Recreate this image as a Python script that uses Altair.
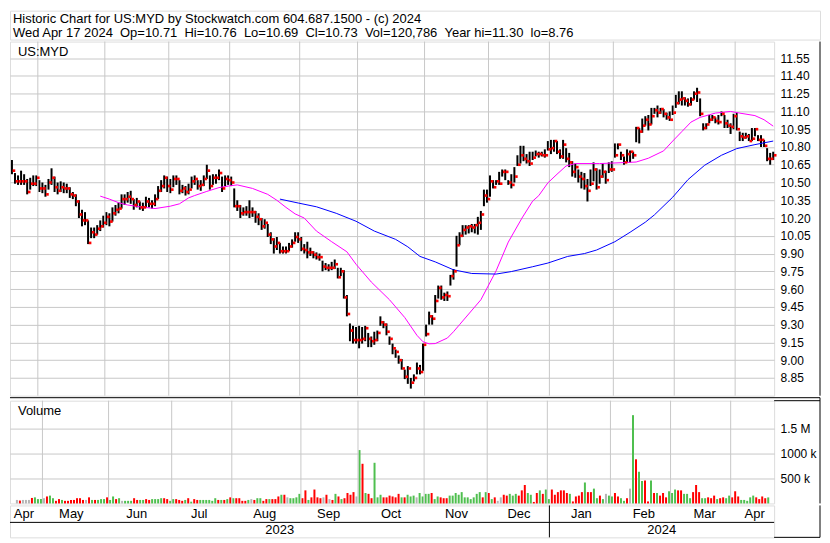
import altair as alt
import pandas as pd

FONT = "Liberation Sans"
W = 766
W_FULL = 812
H_HEAD = 29
H_PRICE = 355
H_VOL = 103
H_BOT = 32

TITLE_1 = "Historic Chart for US:MYD by Stockwatch.com 604.687.1500 - (c) 2024"
TITLE_2 = "Wed Apr 17 2024\u00a0\u00a0Op=10.71\u00a0\u00a0Hi=10.76\u00a0\u00a0Lo=10.69\u00a0\u00a0Cl=10.73\u00a0\u00a0Vol=120,786\u00a0\u00a0Year hi=11.30\u00a0\u00a0lo=8.76"

month_names = ["Apr", "May", "Jun", "Jul", "Aug", "Sep", "Oct", "Nov", "Dec", "Jan", "Feb", "Mar", "Apr"]
year_labels = ["2023", "2024"]
price_ticks = [8.85, 9.00, 9.15, 9.30, 9.45, 9.60, 9.75, 9.90, 10.05, 10.20, 10.35,
               10.50, 10.65, 10.80, 10.95, 11.10, 11.25, 11.40, 11.55]
vol_tick_values = [500000, 1000000, 1500000]
vol_tick_labels = ["500 k", "1000 k", "1.5 M"]

# ---- daily closes, by month ----
close_apr23 = [10.60, 10.51, 10.51, 10.51, 10.51, 10.42, 10.49, 10.49, 10.54]
close_may = [10.45, 10.45, 10.40, 10.50, 10.54, 10.46, 10.43, 10.46, 10.45, 10.45, 10.40, 10.39, 10.34, 10.23, 10.18, 10.18, 9.99, 10.08, 10.06, 10.11, 10.13, 10.16]
close_jun = [10.21, 10.17, 10.24, 10.27, 10.28, 10.36, 10.36, 10.38, 10.36, 10.31, 10.34, 10.29, 10.29, 10.34, 10.32, 10.32, 10.36, 10.43, 10.47, 10.54, 10.47]
close_jul = [10.44, 10.53, 10.53, 10.43, 10.45, 10.42, 10.44, 10.51, 10.53, 10.47, 10.48, 10.53, 10.60, 10.47, 10.54, 10.54, 10.58, 10.45, 10.53, 10.52]
close_aug = [10.50, 10.30, 10.30, 10.24, 10.25, 10.25, 10.25, 10.25, 10.21, 10.19, 10.13, 10.16, 10.06, 10.02, 9.96, 9.99, 9.92, 9.92, 9.92, 9.96, 9.99, 10.04, 10.02]
close_sep = [9.94, 9.93, 9.91, 9.91, 9.89, 9.87, 9.87, 9.79, 9.78, 9.78, 9.78, 9.81, 9.70, 9.75, 9.53, 9.39, 9.25, 9.17, 9.17]
close_oct = [9.17, 9.18, 9.27, 9.18, 9.16, 9.17, 9.23, 9.32, 9.30, 9.24, 9.18, 9.10, 9.07, 9.00, 8.93, 8.86, 8.93, 8.81, 8.85, 8.93, 8.90, 9.13]
close_nov = [9.22, 9.37, 9.35, 9.50, 9.61, 9.53, 9.55, 9.54, 9.71, 9.75, 9.97, 10.05, 10.10, 10.12, 10.13, 10.12, 10.14, 10.16, 10.23, 10.39, 10.36]
close_dec = [10.51, 10.46, 10.51, 10.49, 10.59, 10.59, 10.50, 10.48, 10.55, 10.65, 10.73, 10.70, 10.68, 10.66, 10.71, 10.74, 10.74, 10.73, 10.73, 10.78]
close_jan = [10.79, 10.85, 10.76, 10.72, 10.82, 10.70, 10.67, 10.59, 10.63, 10.55, 10.53, 10.47, 10.43, 10.49, 10.61, 10.46, 10.55, 10.59, 10.52, 10.61, 10.61]
close_feb = [10.73, 10.82, 10.73, 10.67, 10.74, 10.76, 10.73, 10.96, 10.93, 10.98, 11.03, 10.99, 11.06, 11.11, 11.09, 11.12, 11.08, 11.05, 11.03, 11.09]
close_mar = [11.17, 11.20, 11.21, 11.19, 11.16, 11.20, 11.25, 11.26, 11.08, 10.96, 10.99, 11.03, 11.05, 11.02, 11.01, 11.08, 11.00, 10.98, 10.97, 11.06]
close_apr24 = [10.95, 10.89, 10.88, 10.89, 10.85, 10.87, 10.95, 10.86, 10.86, 10.81, 10.70, 10.70, 10.73]

# ---- daily highs ----
high_apr23 = [10.69, 10.58, 10.56, 10.60, 10.57, 10.53, 10.54, 10.56, 10.56]
high_may = [10.52, 10.50, 10.48, 10.53, 10.62, 10.55, 10.50, 10.51, 10.50, 10.49, 10.46, 10.42, 10.40, 10.35, 10.27, 10.25, 10.18, 10.12, 10.12, 10.14, 10.18, 10.22]
high_jun = [10.25, 10.24, 10.29, 10.31, 10.33, 10.40, 10.40, 10.42, 10.43, 10.36, 10.37, 10.34, 10.33, 10.38, 10.37, 10.35, 10.40, 10.47, 10.52, 10.56, 10.55]
high_jul = [10.53, 10.56, 10.56, 10.52, 10.48, 10.47, 10.49, 10.55, 10.56, 10.52, 10.52, 10.56, 10.65, 10.56, 10.57, 10.57, 10.61, 10.55, 10.56, 10.56]
high_aug = [10.55, 10.45, 10.35, 10.31, 10.29, 10.30, 10.35, 10.29, 10.26, 10.24, 10.20, 10.19, 10.15, 10.08, 10.03, 10.04, 9.99, 9.96, 9.96, 9.99, 10.02, 10.08, 10.08]
high_sep = [10.04, 9.98, 10.00, 9.95, 9.92, 9.91, 9.90, 9.84, 9.82, 9.81, 9.83, 9.85, 9.78, 9.78, 9.76, 9.55, 9.31, 9.29, 9.28]
high_oct = [9.29, 9.28, 9.29, 9.23, 9.20, 9.24, 9.25, 9.37, 9.33, 9.31, 9.20, 9.14, 9.09, 9.04, 9.01, 8.92, 8.95, 8.85, 8.88, 8.98, 8.96, 9.14]
high_nov = [9.30, 9.41, 9.38, 9.55, 9.63, 9.63, 9.57, 9.58, 9.72, 9.77, 10.05, 10.08, 10.14, 10.14, 10.14, 10.15, 10.15, 10.21, 10.26, 10.44, 10.44]
high_dec = [10.56, 10.52, 10.52, 10.59, 10.61, 10.61, 10.52, 10.57, 10.63, 10.73, 10.81, 10.81, 10.74, 10.76, 10.76, 10.77, 10.76, 10.76, 10.78, 10.85]
high_jan = [10.86, 10.86, 10.85, 10.78, 10.86, 10.79, 10.75, 10.68, 10.66, 10.61, 10.59, 10.58, 10.53, 10.61, 10.67, 10.62, 10.61, 10.66, 10.60, 10.67, 10.68]
high_feb = [10.83, 10.83, 10.76, 10.72, 10.78, 10.77, 10.76, 10.97, 10.96, 11.04, 11.06, 11.07, 11.13, 11.13, 11.15, 11.13, 11.12, 11.09, 11.10, 11.15]
high_mar = [11.24, 11.27, 11.27, 11.22, 11.21, 11.22, 11.27, 11.30, 11.21, 11.00, 11.00, 11.07, 11.07, 11.05, 11.07, 11.10, 11.07, 11.03, 11.00, 11.08]
high_apr24 = [11.09, 10.93, 10.92, 10.92, 10.91, 10.96, 10.96, 10.90, 10.90, 10.86, 10.79, 10.75, 10.76]

# ---- daily lows ----
low_apr23 = [10.57, 10.49, 10.48, 10.48, 10.48, 10.40, 10.44, 10.47, 10.47]
low_may = [10.42, 10.41, 10.38, 10.44, 10.48, 10.42, 10.40, 10.42, 10.41, 10.41, 10.37, 10.36, 10.30, 10.20, 10.13, 10.14, 9.98, 10.03, 10.03, 10.06, 10.09, 10.12]
low_jun = [10.14, 10.13, 10.17, 10.22, 10.24, 10.28, 10.31, 10.33, 10.32, 10.27, 10.29, 10.27, 10.26, 10.29, 10.29, 10.28, 10.30, 10.36, 10.42, 10.45, 10.42]
low_jul = [10.41, 10.46, 10.48, 10.40, 10.41, 10.39, 10.40, 10.45, 10.48, 10.44, 10.43, 10.47, 10.53, 10.44, 10.48, 10.49, 10.52, 10.42, 10.47, 10.48]
low_aug = [10.47, 10.29, 10.26, 10.20, 10.22, 10.22, 10.20, 10.21, 10.16, 10.14, 10.10, 10.11, 10.04, 9.98, 9.90, 9.93, 9.90, 9.90, 9.90, 9.92, 9.95, 10.00, 9.99]
low_sep = [9.92, 9.90, 9.86, 9.88, 9.86, 9.85, 9.84, 9.75, 9.76, 9.75, 9.76, 9.77, 9.69, 9.71, 9.52, 9.37, 9.16, 9.14, 9.14]
low_oct = [9.10, 9.14, 9.16, 9.11, 9.11, 9.13, 9.16, 9.29, 9.27, 9.21, 9.13, 9.05, 9.02, 8.97, 8.92, 8.84, 8.80, 8.76, 8.82, 8.88, 8.88, 8.91]
low_nov = [9.20, 9.30, 9.30, 9.40, 9.52, 9.51, 9.50, 9.50, 9.63, 9.68, 9.79, 9.97, 10.04, 10.06, 10.07, 10.08, 10.07, 10.06, 10.10, 10.30, 10.33]
low_dec = [10.38, 10.45, 10.48, 10.48, 10.55, 10.52, 10.48, 10.45, 10.50, 10.64, 10.66, 10.68, 10.66, 10.64, 10.69, 10.72, 10.71, 10.72, 10.71, 10.77]
low_jan = [10.74, 10.76, 10.74, 10.70, 10.70, 10.67, 10.63, 10.55, 10.54, 10.50, 10.45, 10.44, 10.34, 10.47, 10.51, 10.44, 10.49, 10.54, 10.49, 10.58, 10.59]
low_feb = [10.71, 10.78, 10.69, 10.65, 10.67, 10.67, 10.70, 10.84, 10.83, 10.92, 10.98, 10.94, 10.99, 11.08, 11.05, 11.08, 11.05, 11.03, 11.02, 11.07]
low_mar = [11.13, 11.16, 11.15, 11.15, 11.14, 11.15, 11.20, 11.18, 11.06, 10.94, 10.95, 11.00, 11.02, 11.00, 10.99, 11.06, 10.96, 10.96, 10.91, 10.95]
low_apr24 = [10.94, 10.85, 10.85, 10.87, 10.85, 10.85, 10.89, 10.85, 10.80, 10.80, 10.68, 10.65, 10.69]

# ---- daily volume (thousands) ----
vol_apr23 = [70, 58, 70, 70, 70, 110, 122, 87, 87]
vol_may = [105, 140, 157, 105, 52, 87, 70, 52, 52, 70, 70, 105, 105, 70, 70, 122, 70, 70, 70, 87, 87, 122]
vol_jun = [70, 140, 87, 105, 52, 52, 52, 52, 105, 70, 70, 70, 87, 70, 87, 87, 87, 105, 105, 87, 52]
vol_jul = [87, 87, 70, 52, 70, 105, 35, 87, 70, 70, 70, 70, 70, 52, 105, 70, 70, 70, 87, 122]
vol_aug = [105, 105, 105, 52, 52, 70, 87, 70, 105, 105, 52, 87, 87, 87, 87, 140, 174, 174, 122, 105, 105, 122, 192]
vol_sep = [105, 262, 70, 122, 279, 122, 105, 122, 174, 87, 70, 192, 140, 87, 105, 209, 174, 227, 140]
vol_oct = [1070, 795, 209, 192, 105, 815, 122, 174, 122, 122, 157, 140, 122, 192, 122, 122, 174, 140, 157, 122, 209, 140]
vol_nov = [192, 192, 209, 87, 140, 122, 105, 105, 157, 157, 209, 174, 227, 122, 122, 87, 122, 192, 227, 122, 227]
vol_dec = [209, 87, 122, 52, 122, 174, 157, 192, 157, 192, 157, 262, 370, 209, 174, 30, 209, 262, 192, 279]
vol_jan = [87, 279, 174, 227, 262, 262, 209, 192, 40, 140, 157, 227, 420, 227, 227, 297, 105, 157, 87, 192, 157]
vol_feb = [140, 209, 140, 105, 52, 105, 297, 1770, 885, 635, 450, 460, 40, 460, 209, 209, 157, 209, 122, 244]
vol_mar = [209, 279, 262, 262, 192, 192, 105, 227, 370, 227, 105, 105, 122, 105, 157, 87, 105, 122, 105, 157]
vol_apr24 = [122, 244, 140, 70, 70, 52, 122, 157, 122, 87, 140, 105, 121]

# ---- volume bar colour: u = up day, d = down day, n = unchanged ----
dir_apr23 = "n d n n n d u u u"
dir_may = "n d u u d d u d d d d d d d n d u d u u u d"
dir_jun = "u u d u n u u u d d u u d d u u u u d d u"
dir_jul = "u d d d u d u d d u u u u u u d u d u d"
dir_aug = "u d d d d u n d u u d d u d d d u d n u u u u"
dir_sep = "d d u d d d d n d n d u d u d d d d n"
dir_oct = "u d u d d u u u d d d d d d u d u u u n u u"
dir_nov = "u u d u u d d d u u u u u u u u u u u d u"
dir_dec = "d u d n n d d u u u d d d u u d d u d u"
dir_jan = "u d d d d d d u d d d d u d d u u d u n u"
dir_feb = "u d d u u d n u d u u d d u d u d d d u"
dir_mar = "u u d d u u u d d d u u d d d u d d u u"
dir_apr24 = "d d d u u u u u d d d d u"

# ---- moving averages (bar index, value) ----
ma1_idx = [29, 32, 35, 38, 42, 47, 52, 55, 58, 60, 64, 68, 71, 74, 79, 84, 87, 90, 93, 96, 100, 105, 110, 113, 118, 124, 129, 133, 135, 137, 139, 143, 145, 147, 154, 159, 163, 167.5, 171, 173, 176, 179, 182, 185, 193, 201, 205, 209, 214, 217, 220, 223, 226, 231, 236, 239, 244, 247, 250]
ma1_val = [10.385, 10.36, 10.33, 10.31, 10.295, 10.28, 10.30, 10.32, 10.37, 10.39, 10.425, 10.457, 10.47, 10.48, 10.45, 10.40, 10.35, 10.29, 10.235, 10.20, 10.09, 10.00, 9.915, 9.81, 9.66, 9.51, 9.36, 9.21, 9.155, 9.138, 9.14, 9.187, 9.24, 9.30, 9.51, 9.754, 9.997, 10.20, 10.343, 10.389, 10.497, 10.57, 10.64, 10.66, 10.66, 10.668, 10.673, 10.705, 10.767, 10.85, 10.93, 11.01, 11.05, 11.086, 11.10, 11.086, 11.065, 11.03, 10.976]
ma2_idx = [88, 94, 100, 106.5, 113, 119, 126, 130, 134, 139, 145, 151, 159, 164, 171, 176, 182.5, 188, 192, 198, 203, 208, 211, 217, 222, 227.5, 233, 238, 244, 250]
ma2_val = [10.36, 10.327, 10.295, 10.24, 10.173, 10.09, 10.02, 9.957, 9.876, 9.83, 9.763, 9.732, 9.727, 9.748, 9.789, 9.82, 9.876, 9.90, 9.93, 10.00, 10.08, 10.165, 10.227, 10.376, 10.524, 10.646, 10.73, 10.786, 10.82, 10.85]

closes = [close_apr23, close_may, close_jun, close_jul, close_aug, close_sep, close_oct,
          close_nov, close_dec, close_jan, close_feb, close_mar, close_apr24]
highs = [high_apr23, high_may, high_jun, high_jul, high_aug, high_sep, high_oct,
         high_nov, high_dec, high_jan, high_feb, high_mar, high_apr24]
lows = [low_apr23, low_may, low_jun, low_jul, low_aug, low_sep, low_oct,
        low_nov, low_dec, low_jan, low_feb, low_mar, low_apr24]
vols = [vol_apr23, vol_may, vol_jun, vol_jul, vol_aug, vol_sep, vol_oct,
        vol_nov, vol_dec, vol_jan, vol_feb, vol_mar, vol_apr24]
dirs = [dir_apr23, dir_may, dir_jun, dir_jul, dir_aug, dir_sep, dir_oct,
        dir_nov, dir_dec, dir_jan, dir_feb, dir_mar, dir_apr24]

rows = []
month_start = []
idx = 0
for cl, hi, lo, vo, di in zip(closes, highs, lows, vols, dirs):
    month_start.append(idx)
    dl = di.split()
    for k in range(len(cl)):
        rows.append({"i": idx, "close": cl[k], "high": hi[k], "low": lo[k],
                     "vol": vo[k] * 1000, "dir": dl[k]})
        idx += 1
N = idx
df = pd.DataFrame(rows)

X_DOM = [-0.64, N - 1 + 0.3]
bounds = [s - 0.5 for s in month_start[1:]]
bounds_df = pd.DataFrame({"b": bounds})
edges = [X_DOM[0]] + bounds + [X_DOM[1]]
month_df = pd.DataFrame({"c": [(edges[k] + edges[k + 1]) / 2 for k in range(len(month_names))],
                         "name": month_names})
jan_b = bounds[8]
year_df = pd.DataFrame({"c": [(X_DOM[0] + jan_b) / 2, (jan_b + X_DOM[1]) / 2], "name": year_labels})
jan_df = pd.DataFrame({"b": [jan_b]})
ma1_df = pd.DataFrame({"i": ma1_idx, "v": ma1_val})
ma2_df = pd.DataFrame({"i": ma2_idx, "v": ma2_val})
one = pd.DataFrame({"k": [0]})

xs = alt.Scale(domain=X_DOM, nice=False, zero=False)


def X(f):
    return alt.X(f, type="quantitative", scale=xs, axis=None)


GRID = "#c8c8c8"

# ---------- header ----------
header = alt.layer(
    alt.Chart(one).mark_text(text=TITLE_1, align="left", baseline="alphabetic", font=FONT,
                             fontSize=13, color="black").encode(x=alt.value(3), y=alt.value(12)),
    alt.Chart(one).mark_text(text=TITLE_2, align="left", baseline="alphabetic", font=FONT,
                             fontSize=13, color="black").encode(x=alt.value(3), y=alt.value(26)),
).properties(width=W_FULL, height=H_HEAD)

# ---------- price panel ----------
ps = alt.Scale(domain=[8.70, 11.69], nice=False, zero=False)
paxis = alt.Axis(orient="right", values=price_ticks, format=".2f", grid=True, gridColor=GRID,
                 gridWidth=1, ticks=False, domain=False, labelPadding=6, labelFontSize=12,
                 labelFont=FONT, labelColor="black", title=None)


def PY(f):
    return alt.Y(f, type="quantitative", scale=ps, axis=paxis, title=None)


vgrid_p = alt.Chart(bounds_df).mark_rule(color=GRID, strokeWidth=1).encode(x=X("b"))
hl = alt.Chart(df).mark_rule(color="black", strokeWidth=2).encode(
    x=X("i"), y=PY("low"), y2="high:Q")
ct = alt.Chart(df).mark_square(color="#ff0000", size=7, opacity=1, xOffset=2).encode(
    x=X("i"), y=PY("close"))
ma1 = alt.Chart(ma1_df).mark_line(color="#ff00ff", strokeWidth=1).encode(x=X("i"), y=PY("v"))
ma2 = alt.Chart(ma2_df).mark_line(color="#0000ff", strokeWidth=1).encode(x=X("i"), y=PY("v"))
plabel = alt.Chart(one).mark_text(text="US:MYD", align="left", baseline="top", font=FONT,
                                  fontSize=13, color="black").encode(x=alt.value(8), y=alt.value(4))
rb_p = alt.Chart(one).mark_rule(color="black", strokeWidth=1).encode(
    x=alt.value(W_FULL), y=alt.value(0), y2=alt.value(H_PRICE))
price = alt.layer(hl, vgrid_p, ma1, ma2, ct, plabel, rb_p).properties(width=W, height=H_PRICE)

# ---------- volume panel ----------
vs = alt.Scale(domain=[0, 2060000], nice=False, zero=True)
lab_expr = "''"
for v, t in zip(vol_tick_values, vol_tick_labels):
    lab_expr = f"datum.value == {v} ? '{t}' : ({lab_expr})"
vaxis = alt.Axis(orient="right", values=vol_tick_values, labelExpr=lab_expr, grid=True,
                 gridColor=GRID, ticks=False, domain=False, labelPadding=6, labelFontSize=12,
                 labelFont=FONT, labelColor="black", title=None)
vgrid_v = alt.Chart(bounds_df).mark_rule(color=GRID, strokeWidth=1).encode(x=X("b"))
vbars = alt.Chart(df).mark_bar(size=2).encode(
    x=X("i"), y=alt.Y("vol:Q", scale=vs, axis=vaxis),
    color=alt.Color("dir:N", scale=alt.Scale(domain=["u", "d", "n"],
                                             range=["#4fbf4f", "#ff0000", "#b4b4b4"]), legend=None))
vlabel = alt.Chart(one).mark_text(text="Volume", align="left", baseline="top", font=FONT,
                                  fontSize=13, color="black").encode(x=alt.value(8), y=alt.value(4))
rb_v = alt.Chart(one).mark_rule(color="black", strokeWidth=1).encode(
    x=alt.value(W_FULL), y=alt.value(-3), y2=alt.value(H_VOL))
dbl_a = alt.Chart(one).mark_rule(color="black", strokeWidth=1).encode(
    x=alt.value(0), x2=alt.value(W_FULL), y=alt.value(-3))
dbl_b = alt.Chart(one).mark_rule(color="black", strokeWidth=1).encode(
    x=alt.value(W), x2=alt.value(W_FULL), y=alt.value(0))
volume = alt.layer(vbars, vgrid_v, vlabel, rb_v, dbl_a, dbl_b).properties(width=W, height=H_VOL)

# ---------- month / year band ----------
mtext = alt.Chart(month_df).mark_text(font=FONT, fontSize=13, color="black", baseline="middle").encode(
    x=X("c"), y=alt.value(9), text="name:N")
ytext = alt.Chart(year_df).mark_text(font=FONT, fontSize=13, color="black", baseline="middle").encode(
    x=X("c"), y=alt.value(25), text="name:N")
hsep = alt.Chart(one).mark_rule(color="black", strokeWidth=1).encode(
    x=alt.value(0), x2=alt.value(W), y=alt.value(17))
jline = alt.Chart(jan_df).mark_rule(color="black", strokeWidth=1).encode(
    x=X("b"), y=alt.value(0), y2=alt.value(H_BOT))
rb_b = alt.Chart(one).mark_rule(color="black", strokeWidth=1).encode(
    x=alt.value(W_FULL), y=alt.value(0), y2=alt.value(H_BOT))
bb_b = alt.Chart(one).mark_rule(color="black", strokeWidth=1).encode(
    x=alt.value(W), x2=alt.value(W_FULL), y=alt.value(H_BOT))
bottom = alt.layer(mtext, ytext, hsep, jline, rb_b, bb_b).properties(width=W, height=H_BOT)

chart = alt.vconcat(header, price, volume, bottom, spacing=0).properties(
    padding=1, background="white"
).configure_view(stroke="black", strokeWidth=1).configure(font=FONT)

chart.save("out.html", embed_options={"renderer": "svg", "actions": False})
